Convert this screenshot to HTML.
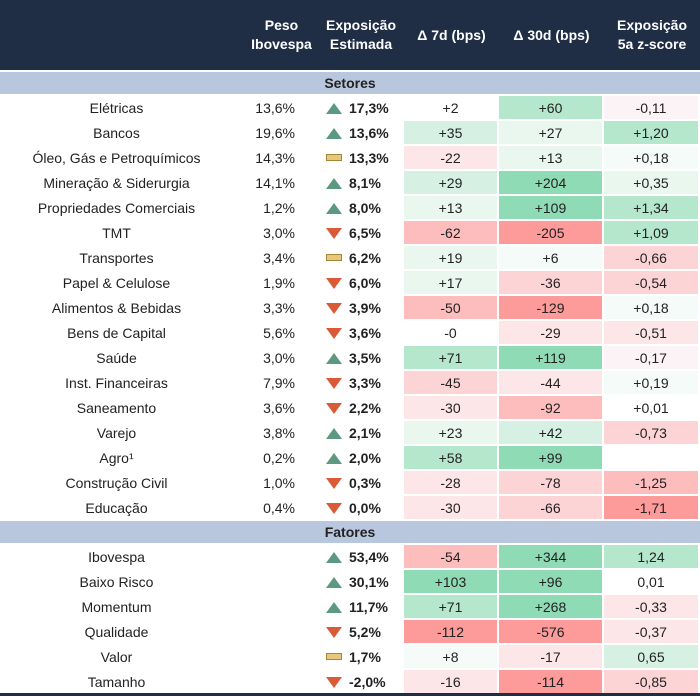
<!DOCTYPE html>
<html><head><meta charset="utf-8"><style>
body{margin:0;width:700px;height:696px;overflow:hidden;background:#fff;font-family:"Liberation Sans",sans-serif;font-size:14px;color:#222}
table{border-collapse:separate;border-spacing:0;table-layout:fixed;width:700px;position:absolute;left:0;top:0}
th{background:#1f2e45;color:#fff;font-weight:bold;height:70px;padding:0;line-height:19px;font-size:14px;text-align:center;border-bottom:2px solid #fff}
td{height:23px;padding:0;border-right:2px solid #fff;border-bottom:2px solid #fff;text-align:center;white-space:nowrap}
td.l{text-align:center;padding-right:10px}
td.p{text-align:right;padding-right:21px}
td.e{text-align:left;padding-left:8px;font-weight:bold}
tr.sec td{background:#b8c7dd;font-weight:bold;height:22px;border-right:0;text-align:center}
.up{display:inline-block;width:0;height:0;border-left:8px solid transparent;border-right:8px solid transparent;border-bottom:11px solid #5b9a80;vertical-align:-1px;margin-right:7px}
.dn{display:inline-block;width:0;height:0;border-left:8px solid transparent;border-right:8px solid transparent;border-top:11px solid #d95a36;vertical-align:-1px;margin-right:7px}
.nt{display:inline-block;width:14px;height:5px;background:#e8c77a;border:1px solid #a88436;vertical-align:2px;margin-right:7px}
.g4{background:#8fdbb5}.g3{background:#b5e7cd}.g2{background:#d6f1e3}.g1{background:#e9f7ef}.g0{background:#f5fbf8}
.r0{background:#fcf3f6}.r1{background:#fde6e7}.r2{background:#fdd4d6}.r3{background:#febdbd}.r4{background:#fd9a9a}
</style></head><body>
<table>
<colgroup><col style="width:245px"><col style="width:73px"><col style="width:86px"><col style="width:95px"><col style="width:105px"><col style="width:96px"></colgroup>
<tr><th></th><th>Peso<br>Ibovespa</th><th>Exposição<br>Estimada</th><th>Δ 7d (bps)</th><th>Δ 30d (bps)</th><th>Exposição<br>5a z-score</th></tr>
<tr class="sec"><td colspan="6">Setores</td></tr>
<tr><td class="l">Elétricas</td><td class="p">13,6%</td><td class="e"><span class="up"></span>17,3%</td><td>+2</td><td class="g3">+60</td><td class="r0">-0,11</td></tr>
<tr><td class="l">Bancos</td><td class="p">19,6%</td><td class="e"><span class="up"></span>13,6%</td><td class="g2">+35</td><td class="g1">+27</td><td class="g3">+1,20</td></tr>
<tr><td class="l">Óleo, Gás e Petroquímicos</td><td class="p">14,3%</td><td class="e"><span class="nt"></span>13,3%</td><td class="r1">-22</td><td class="g1">+13</td><td class="g0">+0,18</td></tr>
<tr><td class="l">Mineração &amp; Siderurgia</td><td class="p">14,1%</td><td class="e"><span class="up"></span>8,1%</td><td class="g2">+29</td><td class="g4">+204</td><td class="g1">+0,35</td></tr>
<tr><td class="l">Propriedades Comerciais</td><td class="p">1,2%</td><td class="e"><span class="up"></span>8,0%</td><td class="g1">+13</td><td class="g4">+109</td><td class="g3">+1,34</td></tr>
<tr><td class="l">TMT</td><td class="p">3,0%</td><td class="e"><span class="dn"></span>6,5%</td><td class="r3">-62</td><td class="r4">-205</td><td class="g3">+1,09</td></tr>
<tr><td class="l">Transportes</td><td class="p">3,4%</td><td class="e"><span class="nt"></span>6,2%</td><td class="g1">+19</td><td class="g0">+6</td><td class="r2">-0,66</td></tr>
<tr><td class="l">Papel &amp; Celulose</td><td class="p">1,9%</td><td class="e"><span class="dn"></span>6,0%</td><td class="g1">+17</td><td class="r2">-36</td><td class="r2">-0,54</td></tr>
<tr><td class="l">Alimentos &amp; Bebidas</td><td class="p">3,3%</td><td class="e"><span class="dn"></span>3,9%</td><td class="r3">-50</td><td class="r4">-129</td><td class="g0">+0,18</td></tr>
<tr><td class="l">Bens de Capital</td><td class="p">5,6%</td><td class="e"><span class="dn"></span>3,6%</td><td>-0</td><td class="r1">-29</td><td class="r1">-0,51</td></tr>
<tr><td class="l">Saúde</td><td class="p">3,0%</td><td class="e"><span class="up"></span>3,5%</td><td class="g3">+71</td><td class="g4">+119</td><td class="r0">-0,17</td></tr>
<tr><td class="l">Inst. Financeiras</td><td class="p">7,9%</td><td class="e"><span class="dn"></span>3,3%</td><td class="r2">-45</td><td class="r1">-44</td><td class="g0">+0,19</td></tr>
<tr><td class="l">Saneamento</td><td class="p">3,6%</td><td class="e"><span class="dn"></span>2,2%</td><td class="r1">-30</td><td class="r3">-92</td><td>+0,01</td></tr>
<tr><td class="l">Varejo</td><td class="p">3,8%</td><td class="e"><span class="up"></span>2,1%</td><td class="g1">+23</td><td class="g2">+42</td><td class="r2">-0,73</td></tr>
<tr><td class="l">Agro¹</td><td class="p">0,2%</td><td class="e"><span class="up"></span>2,0%</td><td class="g3">+58</td><td class="g4">+99</td><td></td></tr>
<tr><td class="l">Construção Civil</td><td class="p">1,0%</td><td class="e"><span class="dn"></span>0,3%</td><td class="r1">-28</td><td class="r2">-78</td><td class="r3">-1,25</td></tr>
<tr><td class="l">Educação</td><td class="p">0,4%</td><td class="e"><span class="dn"></span>0,0%</td><td class="r1">-30</td><td class="r2">-66</td><td class="r4">-1,71</td></tr>
<tr class="sec"><td colspan="6">Fatores</td></tr>
<tr><td class="l">Ibovespa</td><td class="p"></td><td class="e"><span class="up"></span>53,4%</td><td class="r3">-54</td><td class="g4">+344</td><td class="g3">1,24</td></tr>
<tr><td class="l">Baixo Risco</td><td class="p"></td><td class="e"><span class="up"></span>30,1%</td><td class="g4">+103</td><td class="g4">+96</td><td>0,01</td></tr>
<tr><td class="l">Momentum</td><td class="p"></td><td class="e"><span class="up"></span>11,7%</td><td class="g3">+71</td><td class="g4">+268</td><td class="r1">-0,33</td></tr>
<tr><td class="l">Qualidade</td><td class="p"></td><td class="e"><span class="dn"></span>5,2%</td><td class="r4">-112</td><td class="r4">-576</td><td class="r1">-0,37</td></tr>
<tr><td class="l">Valor</td><td class="p"></td><td class="e"><span class="nt"></span>1,7%</td><td class="g0">+8</td><td class="r1">-17</td><td class="g2">0,65</td></tr>
<tr><td class="l">Tamanho</td><td class="p"></td><td class="e"><span class="dn"></span>-2,0%</td><td class="r1">-16</td><td class="r4">-114</td><td class="r2">-0,85</td></tr>
</table>
<div style="position:absolute;left:0;top:693px;width:700px;height:3px;background:#1f2e45"></div>
</body></html>
